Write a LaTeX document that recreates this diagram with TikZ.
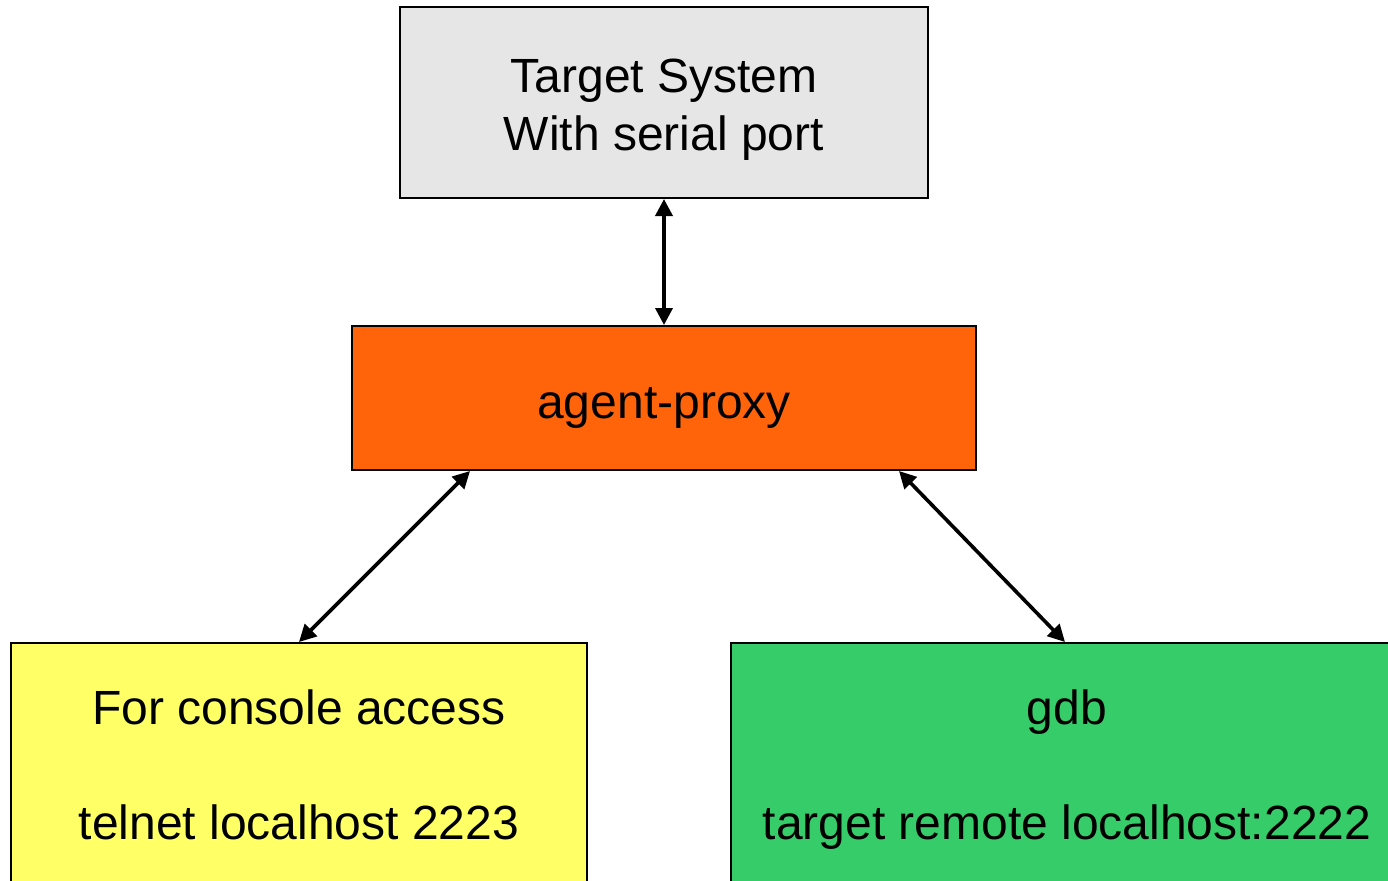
\documentclass[tikz,border=0pt]{standalone}
\usepackage{fontspec}
\setmainfont{Liberation Sans}
\usetikzlibrary{arrows.meta,calc}
\definecolor{tgray}{HTML}{E6E6E6}
\definecolor{porange}{HTML}{FF640A}
\definecolor{cyellow}{HTML}{FFFF66}
\definecolor{ggreen}{HTML}{36CC6A}
\tikzset{
  box/.style={draw=black, line width=1pt, inner sep=0pt, rectangle},
  lbl/.style={anchor=base, inner sep=0pt, font=\fontsize{24}{29}\selectfont},
  link/.style={line width=1.8pt, {Triangle[length=8.5pt,width=8.5pt]}-{Triangle[length=8.5pt,width=8.5pt]}}
}
\begin{document}
\begin{tikzpicture}[x=0.5pt,y=-0.5pt]
\useasboundingbox (0,0) rectangle (1388,880);
\clip (0,0) rectangle (1388,880);
\fill[white] (0,0) rectangle (1388,880);
% boxes
\node[box, fill=tgray, minimum width=264pt, minimum height=95.5pt] (target) at (664,102.5) {};
\node[box, fill=porange, minimum width=312pt, minimum height=72pt] (agent) at (664,398) {};
\node[box, fill=cyellow, minimum width=288pt, minimum height=158.5pt] (console) at (299,801.5) {};
\node[box, fill=ggreen, minimum width=339.5pt, minimum height=158.5pt] (gdb) at (1070.5,801.5) {};
% texts
\node[lbl] (t1) at (664,92.7) {Target System};
\node[lbl] (t2) at (664,150) {With serial port};
\node[lbl] (a1) at (664,418) {agent-proxy};
\node[lbl] (c1) at (299,724) {For console access};
\node[lbl] (c2) at (299,839) {telnet localhost 2223};
\node[lbl] (g1) at (1067,724) {gdb};
\node[lbl] (g2) at (1067,839) {target remote localhost:2222};
% connector ends
\coordinate (agl) at ($(agent.south west)+(119,0)$);
\coordinate (agr) at ($(agent.south west)+(548,0)$);
\coordinate (cn) at ($(console.north west)+(289,0)$);
\coordinate (gn) at ($(gdb.north west)+(335,0)$);
% connectors
\draw[link] (target.south) -- (agent.north);
\draw[link] (agl) -- (cn);
\draw[link] (agr) -- (gn);
\end{tikzpicture}
\end{document}
